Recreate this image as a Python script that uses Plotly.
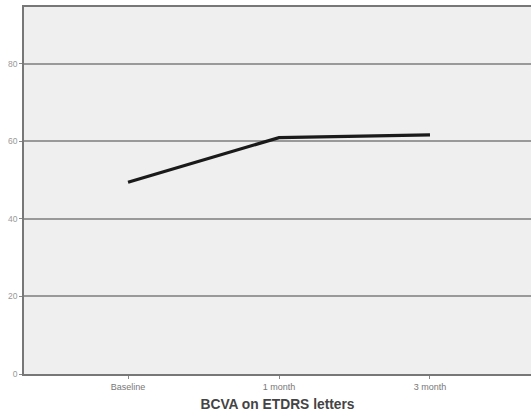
import plotly.graph_objects as go

categories = ["Baseline", "1 month", "3 month"]
bcva = [49.5, 61.0, 61.7]
y_ticks = [0, 20, 40, 60, 80]

fig = go.Figure()
fig.add_trace(go.Scatter(
    x=categories, y=bcva, mode="lines",
    line=dict(color="#1a1a1a", width=3.2),
    showlegend=False,
))

fig.update_layout(
    width=531, height=412,
    margin=dict(l=24, r=0, t=7, b=38),
    paper_bgcolor="white",
    plot_bgcolor="#efefef",
    font=dict(family="Liberation Sans, Arial, sans-serif", color="#555"),
)
fig.update_xaxes(
    type="category",
    range=[-0.689, 2.669],
    showgrid=False,
    showline=True, linecolor="#777", linewidth=1.5, mirror=True,
    ticks="outside", ticklen=3, tickcolor="#888",
    tickfont=dict(size=9, color="#777"),
    title=dict(text="<b>BCVA on ETDRS letters</b>", font=dict(size=13.8, color="#444"), standoff=9),
    zeroline=False,
)
fig.update_yaxes(
    range=[0, 94.7],
    tickvals=y_ticks,
    showgrid=True, gridcolor="#999", gridwidth=1.5,
    showline=True, linecolor="#777", linewidth=1.5,
    ticks="outside", ticklen=3, tickcolor="#888",
    tickfont=dict(size=8.5, color="#999"),
    zeroline=False,
)

fig.write_html(
    "out.html",
    config={"displayModeBar": False},
    post_script="document.body.style.margin='0';document.body.style.overflow='hidden';",
)
